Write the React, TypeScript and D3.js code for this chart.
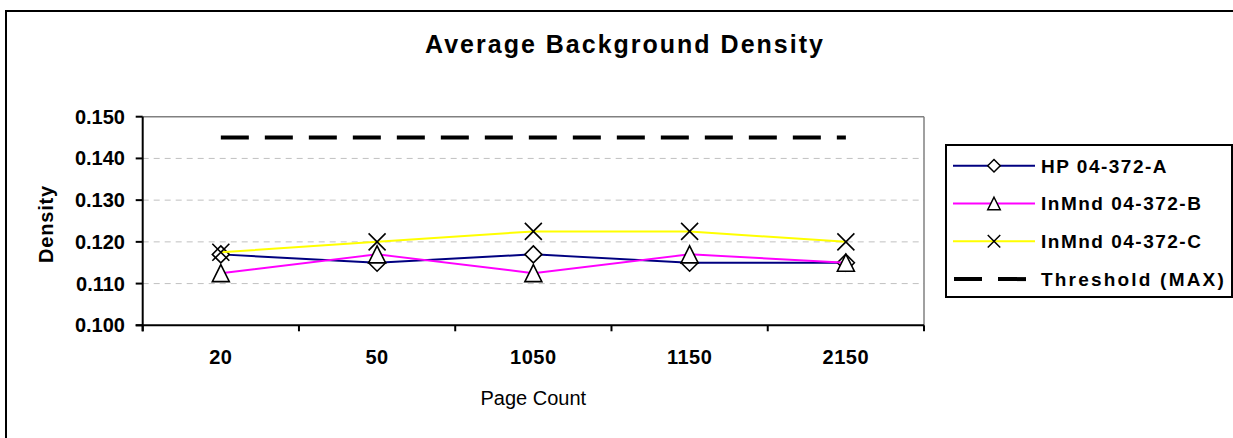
import React from 'react';
import * as d3 from 'd3';

// chart values
const categories = ['20', '50', '1050', '1150', '2150'];
const hpA = [0.117, 0.115, 0.117, 0.115, 0.115];
const inmndB = [0.1125, 0.117, 0.1125, 0.117, 0.115];
const inmndC = [0.1175, 0.12, 0.1225, 0.1225, 0.12];
const thresholdMax = 0.145;
const yTicks = [0.1, 0.11, 0.12, 0.13, 0.14, 0.15];
const gridTicks = [0.11, 0.12, 0.13, 0.14];

const FONT = '"Liberation Sans", Arial, sans-serif';

// marker shapes (Excel style)
const diamond = {
  draw(ctx: any, size: number) {
    const r = Math.sqrt(size) / 2;
    ctx.moveTo(0, -r); ctx.lineTo(r, 0); ctx.lineTo(0, r); ctx.lineTo(-r, 0); ctx.closePath();
  },
};
const triangle = {
  draw(ctx: any, size: number) {
    const r = Math.sqrt(size) / 2;
    ctx.moveTo(0, -r); ctx.lineTo(r, r); ctx.lineTo(-r, r); ctx.closePath();
  },
};
const cross = {
  draw(ctx: any, size: number) {
    const r = Math.sqrt(size) / 2;
    ctx.moveTo(-r, -r); ctx.lineTo(r, r); ctx.moveTo(r, -r); ctx.lineTo(-r, r);
  },
};

const series = [
  { name: 'HP 04-372-A', values: hpA, color: '#000080', shape: diamond },
  { name: 'InMnd 04-372-B', values: inmndB, color: '#FF00FF', shape: triangle },
  { name: 'InMnd 04-372-C', values: inmndC, color: '#FFFF00', shape: cross },
];

export default function App() {
  const width = 1233;
  const height = 438;
  const plot = { left: 142.7, right: 924, top: 116.7, bottom: 325.3 };

  const x = d3.scaleBand<string>().domain(categories).range([plot.left, plot.right]).padding(0);
  const y = d3.scaleLinear().domain([0.1, 0.15]).range([plot.bottom, plot.top]);
  const cx = (c: string) => (x(c) as number) + x.bandwidth() / 2;

  const line = d3.line<number>()
    .x((_, i) => cx(categories[i]))
    .y(d => y(d));

  const bigMarker = (shape: any) => d3.symbol().type(shape).size(17 * 17)() as string;
  const smallMarker = (shape: any) => d3.symbol().type(shape).size(12.5 * 12.5)() as string;

  const boundaries = d3.range(categories.length + 1).map(i => plot.left + i * x.bandwidth());

  const legend = { x: 946, y: 145, w: 286, h: 152 };
  const rowY = (i: number) => 165.7 + i * 37.8;

  return (
    <svg width={width} height={height} style={{ position: 'absolute', left: 0, top: 0, background: '#fff' }}>
      {/* outer chart border */}
      <rect x={6} y={11} width={1250} height={450} fill="#fff" stroke="#000" strokeWidth={2} />

      <text x={625} y={53} textAnchor="middle" fontFamily={FONT} fontWeight="bold" fontSize={25} letterSpacing={2}>
        Average Background Density
      </text>

      {/* grid lines */}
      {gridTicks.map(t => (
        <line key={t} x1={plot.left} x2={plot.right} y1={y(t)} y2={y(t)} stroke="#c0c0c0" strokeWidth={1} strokeDasharray="6 5" />
      ))}

      {/* plot area top/right border */}
      <line x1={plot.left} x2={plot.right} y1={plot.top} y2={plot.top} stroke="#808080" strokeWidth={1.5} />
      <line x1={plot.right} x2={plot.right} y1={plot.top} y2={plot.bottom} stroke="#808080" strokeWidth={1.5} />

      {/* y axis */}
      <line x1={plot.left} x2={plot.left} y1={plot.top} y2={plot.bottom + 6} stroke="#000" strokeWidth={2} />
      {yTicks.map(t => (
        <g key={t}>
          <line x1={plot.left - 7} x2={plot.left} y1={y(t)} y2={y(t)} stroke="#000" strokeWidth={2} />
          <text x={125} y={y(t)} dy="0.35em" textAnchor="end" fontFamily={FONT} fontWeight="bold" fontSize={20}>
            {d3.format('.3f')(t)}
          </text>
        </g>
      ))}
      <text transform={`translate(53, ${(plot.top + plot.bottom) / 2 + 3}) rotate(-90)`} textAnchor="middle"
        fontFamily={FONT} fontWeight="bold" fontSize={20} letterSpacing={0.8}>
        Density
      </text>

      {/* x axis */}
      <line x1={plot.left - 7} x2={plot.right} y1={plot.bottom} y2={plot.bottom} stroke="#000" strokeWidth={2} />
      {boundaries.map((b, i) => (
        <line key={i} x1={b} x2={b} y1={plot.bottom} y2={plot.bottom + 6} stroke="#000" strokeWidth={2} />
      ))}
      {categories.map(c => (
        <text key={c} x={cx(c)} y={364.3} textAnchor="middle" fontFamily={FONT} fontWeight="bold" fontSize={20} letterSpacing={0.5}>
          {c}
        </text>
      ))}
      <text x={(plot.left + plot.right) / 2} y={405} textAnchor="middle" fontFamily={FONT} fontSize={20}>
        Page Count
      </text>

      {/* threshold */}
      <line x1={cx(categories[0])} x2={cx(categories[categories.length - 1])} y1={y(thresholdMax)} y2={y(thresholdMax)}
        stroke="#000" strokeWidth={4} strokeDasharray="28 16" />

      {/* series */}
      {series.map(s => (
        <g key={s.name}>
          <path d={line(s.values) as string} fill="none" stroke={s.color} strokeWidth={2} />
          {s.values.map((v, i) => (
            <path key={i} d={bigMarker(s.shape)} transform={`translate(${cx(categories[i])}, ${y(v)})`}
              fill={s.shape === cross ? 'none' : '#fff'} stroke="#000" strokeWidth={1.6} />
          ))}
        </g>
      ))}

      {/* legend */}
      <rect x={legend.x} y={legend.y} width={legend.w} height={legend.h} fill="#fff" stroke="#000" strokeWidth={2} />
      {series.map((s, i) => (
        <g key={s.name}>
          <line x1={953} x2={1035} y1={rowY(i)} y2={rowY(i)} stroke={s.color} strokeWidth={2} />
          <path d={smallMarker(s.shape)} transform={`translate(994, ${rowY(i)})`}
            fill={s.shape === cross ? 'none' : '#fff'} stroke="#000" strokeWidth={1.5} />
          <text x={1041} y={rowY(i)} dy="0.36em" fontFamily={FONT} fontWeight="bold" fontSize={19} letterSpacing={1.5}>
            {s.name}
          </text>
        </g>
      ))}
      <line x1={954} x2={1026} y1={rowY(3)} y2={rowY(3)} stroke="#000" strokeWidth={4} strokeDasharray="28 16" />
      <text x={1041} y={rowY(3)} dy="0.36em" fontFamily={FONT} fontWeight="bold" fontSize={19} letterSpacing={2.2}>
        Threshold (MAX)
      </text>
    </svg>
  );
}
